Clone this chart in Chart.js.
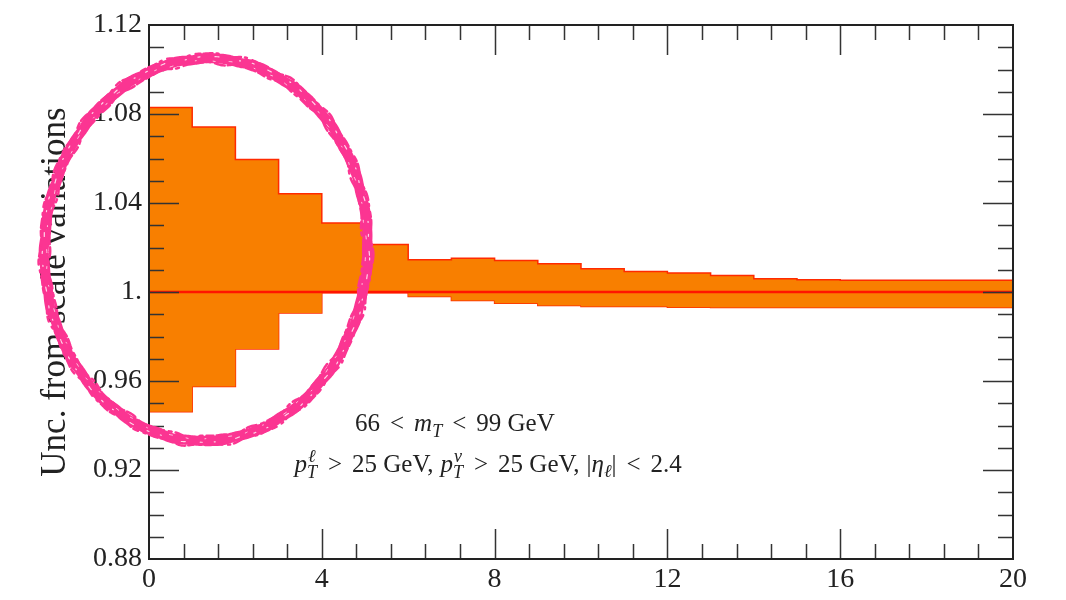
<!DOCTYPE html>
<html>
<head>
<meta charset="utf-8">
<script src="https://cdn.jsdelivr.net/npm/chart.js@4.4.1/dist/chart.umd.min.js"></script>
<style>
  body { margin: 0; background: #fff; }
  canvas { display: block; }
</style>
</head>
<body>
<canvas id="chart" width="1066" height="600"></canvas>
<script>
// bin edges on the x axis (20 bins of width 1)
const xEdges = [0, 1, 2, 3, 4, 5, 6, 7, 8, 9, 10, 11, 12, 13, 14, 15, 16, 17, 18, 19, 20]
// upper / lower edge of the scale-variation band, per bin
const upperEdge = [1.0829, 1.0742, 1.0595, 1.0442, 1.0310, 1.0213, 1.0145, 1.0152, 1.0142, 1.0127,
                   1.0104, 1.0092, 1.0085, 1.0074, 1.0059, 1.0055, 1.0053, 1.0053, 1.0053, 1.0053]
const lowerEdge = [0.9462, 0.9575, 0.9744, 0.9906, 0.9997, 0.9997, 0.9980, 0.9962, 0.9950, 0.9939,
                   0.9935, 0.9935, 0.9932, 0.9930, 0.9930, 0.9930, 0.9930, 0.9930, 0.9930, 0.9930]
const nominal = [1, 1, 1, 1, 1, 1, 1, 1, 1, 1, 1, 1, 1, 1, 1, 1, 1, 1, 1, 1]

const xTicks = [0, 4, 8, 12, 16, 20]
const xTickLabels = ['0', '4', '8', '12', '16', '20']
const yTicks = [0.88, 0.92, 0.96, 1.0, 1.04, 1.08, 1.12]
const yTickLabels = ['0.88', '0.92', '0.96', '1.', '1.04', '1.08', '1.12']
const yTitle = 'Unc. from scale variations'

const SERIF = '"Liberation Serif", "DejaVu Serif", serif'
const INK = '#222'

// histogram bins -> step points (last point closes the final bin)
function steps(vals) {
  const pts = vals.map((v, i) => ({ x: xEdges[i], y: v }))
  pts.push({ x: xEdges[vals.length], y: vals[vals.length - 1] })
  return pts
}

// rich text: runs of [text, kind]; kind n(ormal), i(talic), sub, subsup, gap (width in px)
function drawRich(ctx, runs, cx, baseY, size) {
  const fontFor = (k) => {
    if (k === 'n') return `${size}px ${SERIF}`
    if (k === 'i') return `italic ${size}px ${SERIF}`
    return `italic ${Math.round(size * 0.7)}px ${SERIF}`
  }
  const widthOf = (r) => {
    if (r[1] === 'gap') return r[0]
    ctx.font = fontFor(r[1])
    if (r[1] === 'subsup') return Math.max(ctx.measureText(r[0]).width, ctx.measureText(r[2]).width) + 1
    return ctx.measureText(r[0]).width
  }
  const total = runs.reduce((s, r) => s + widthOf(r), 0)
  let x = cx - total / 2
  ctx.textAlign = 'left'
  ctx.textBaseline = 'alphabetic'
  ctx.fillStyle = INK
  runs.forEach(r => {
    const w = widthOf(r)
    if (r[1] !== 'gap') {
      ctx.font = fontFor(r[1])
      if (r[1] === 'sub') ctx.fillText(r[0], x, baseY + size * 0.22)
      else if (r[1] === 'subsup') {
        ctx.fillText(r[0], x, baseY + size * 0.25)
        ctx.fillText(r[2], x + 1, baseY - size * 0.4)
      } else ctx.fillText(r[0], x, baseY)
    }
    x += w
  })
}

const frame = {
  id: 'frame',
  afterDatasetsDraw(chart) {
    const { ctx, chartArea: a, scales: { x, y } } = chart
    ctx.save()
    ctx.strokeStyle = '#333'
    ctx.lineWidth = 1.5
    ctx.beginPath()
    for (let k = 1; k < 25; k++) {
      const px = Math.round(x.getPixelForValue(k * 0.8)) + 0.5
      const len = k % 5 === 0 ? 30 : 15
      ctx.moveTo(px, a.bottom); ctx.lineTo(px, a.bottom - len)
      ctx.moveTo(px, a.top); ctx.lineTo(px, a.top + len)
    }
    for (let k = 1; k < 24; k++) {
      const py = Math.round(y.getPixelForValue(0.88 + k * 0.01)) + 0.5
      const len = k % 4 === 0 ? 30 : 15
      ctx.moveTo(a.left, py); ctx.lineTo(a.left + len, py)
      ctx.moveTo(a.right, py); ctx.lineTo(a.right - len, py)
    }
    ctx.stroke()
    ctx.strokeStyle = INK
    ctx.lineWidth = 2
    ctx.strokeRect(a.left, a.top, a.right - a.left, a.bottom - a.top)

    // axis title
    ctx.save()
    ctx.translate(56, (a.top + a.bottom) / 2)
    ctx.rotate(-Math.PI / 2)
    ctx.font = `35px ${SERIF}`
    ctx.fillStyle = INK
    ctx.textAlign = 'center'
    ctx.textBaseline = 'middle'
    ctx.fillText(yTitle, 0, 0)
    ctx.restore()

    // selection notes
    drawRich(ctx, [['66', 'n'], [10, 'gap'], ['<', 'n'], [10, 'gap'], ['m', 'i'], ['T', 'sub'], [10, 'gap'],
      ['<', 'n'], [10, 'gap'], ['99 GeV', 'n']],
      x.getPixelForValue(7.08), y.getPixelForValue(0.9374), 25)
    drawRich(ctx, [['p', 'i'], ['T', 'subsup', 'ℓ'], [10, 'gap'], ['>', 'n'], [10, 'gap'], ['25 GeV,', 'n'], [7, 'gap'],
      ['p', 'i'], ['T', 'subsup', 'ν'], [10, 'gap'], ['>', 'n'], [10, 'gap'], ['25 GeV,', 'n'], [7, 'gap'],
      ['|', 'n'], ['η', 'i'], ['ℓ', 'sub'], ['|', 'n'], [10, 'gap'], ['<', 'n'], [10, 'gap'], ['2.4', 'n']],
      x.getPixelForValue(7.85), y.getPixelForValue(0.9192), 25)
    ctx.restore()
  },
  afterDraw(chart) {
    // hand-drawn highlight ring around the low-x bins
    const { ctx, scales: { x, y } } = chart
    const cx = x.getPixelForValue(1.32), cy = y.getPixelForValue(1.019)
    const rx = 3.74 * (x.getPixelForValue(1) - x.getPixelForValue(0))
    const ry = 0.0860 * (y.getPixelForValue(0) - y.getPixelForValue(1))
    const rot = 0.05
    const ring = (dr, ph, amp, w, col, dash) => {
      ctx.beginPath()
      for (let i = 0; i <= 720; i++) {
        const t = i / 720 * Math.PI * 2
        const wob = dr + amp * (Math.sin(23 * t + ph) + 0.6 * Math.sin(41 * t + 2 * ph))
        const ex = (rx + wob) * Math.cos(t), ey = (ry + wob) * Math.sin(t)
        const px = cx + ex * Math.cos(rot) - ey * Math.sin(rot)
        const py = cy + ex * Math.sin(rot) + ey * Math.cos(rot)
        i === 0 ? ctx.moveTo(px, py) : ctx.lineTo(px, py)
      }
      ctx.strokeStyle = col
      ctx.lineWidth = w
      ctx.setLineDash(dash || [])
      ctx.stroke()
    }
    const pink = '#fb3592'
    ctx.save()
    ctx.lineCap = 'round'
    ctx.lineJoin = 'round'
    ring(0, 0, 0.5, 10, pink)
    ring(4.5, 1.3, 1, 2.5, pink, [5, 3, 9, 4, 2, 6])
    ring(-4.5, 2.1, 1, 2.5, pink, [7, 4, 3, 5, 10, 3])
    ring(1.5, 0.7, 0.6, 1.2, 'rgba(255,255,255,0.8)', [2, 15, 4, 21, 1, 12])
    ring(-2, 2.9, 0.6, 1, 'rgba(255,255,255,0.7)', [3, 23, 1, 17, 2, 14])
    ctx.restore()
  }
}

const chart = {
  init() {
    const ctx = document.querySelector('#chart').getContext('2d')
    this.chart = new Chart(ctx, {
      type: 'line',
      data: {
        datasets: [
          {
            data: steps(upperEdge),
            stepped: 'before',
            fill: '+1',
            backgroundColor: '#f87f00',
            borderColor: '#ff2a00',
            borderWidth: 1.5,
            pointRadius: 0,
            order: 1
          },
          {
            data: steps(lowerEdge),
            stepped: 'before',
            fill: false,
            borderColor: '#ff2a00',
            borderWidth: 1.5,
            pointRadius: 0,
            order: 2
          },
          {
            data: steps(nominal),
            stepped: 'before',
            fill: false,
            borderColor: '#ff1500',
            borderWidth: 2.5,
            pointRadius: 0,
            order: 0
          }
        ]
      },
      options: {
        responsive: false,
        devicePixelRatio: 1,
        animation: false,
        layout: { padding: { left: 0, right: 53, top: 25, bottom: 0 } },
        plugins: { legend: { display: false }, tooltip: { enabled: false } },
        scales: {
          x: {
            type: 'linear',
            min: 0,
            max: 20,
            grid: { display: false, drawTicks: false },
            border: { display: false },
            afterBuildTicks: s => { s.ticks = xTicks.map(v => ({ value: v })) },
            afterFit: s => { s.height = 41 },
            ticks: {
              padding: 4,
              color: INK,
              font: { family: SERIF, size: 28 },
              maxRotation: 0,
              callback: (v, i) => xTickLabels[i]
            }
          },
          y: {
            type: 'linear',
            min: 0.88,
            max: 1.12,
            grid: { display: false, drawTicks: false },
            border: { display: false },
            afterBuildTicks: s => { s.ticks = yTicks.map(v => ({ value: v })) },
            afterFit: s => { s.width = 149 },
            ticks: {
              padding: 7,
              color: INK,
              font: { family: SERIF, size: 28 },
              callback: (v, i) => yTickLabels[i]
            }
          }
        }
      },
      plugins: [frame]
    })
  }
}

window.addEventListener('load', e => {
  chart.init()
})
</script>
</body>
</html>
